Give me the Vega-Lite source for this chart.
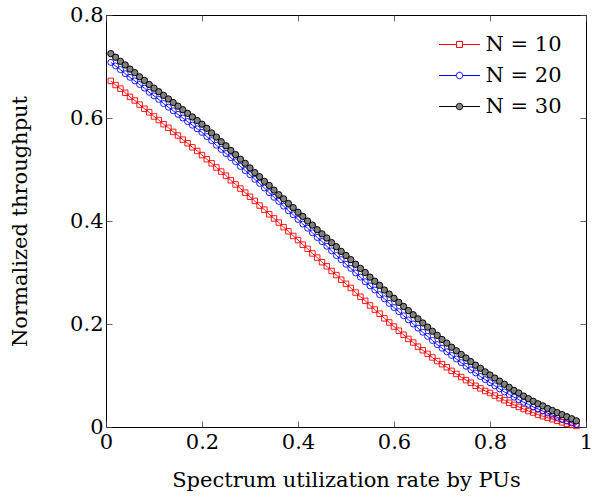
{
"$schema": "https://vega.github.io/schema/vega-lite/v6.json",
"width": 480, "height": 412,
"autosize": {"type": "none"},
"padding": {"left": 106, "top": 15, "right": 6, "bottom": 70},
"background": "white",
"config": {
  "font": "DejaVu Serif",
  "view": {"stroke": "black", "strokeWidth": 1},
  "axis": {"grid": false, "domain": false, "tickSize": -6, "tickColor": "#444", "tickWidth": 0.8,
           "labelFont": "DejaVu Serif", "labelFontSize": 21, "labelColor": "black",
           "titleFont": "DejaVu Serif", "titleFontSize": 21, "titleFontWeight": "normal", "titleColor": "black"},
  "legend": {"labelFont": "DejaVu Serif"}
},
"datasets": {"d": [
{"x":0.01,"s":"N = 10","y":0.672},{"x":0.02,"s":"N = 10","y":0.664},{"x":0.03,"s":"N = 10","y":0.657},{"x":0.04,"s":"N = 10","y":0.649},{"x":0.05,"s":"N = 10","y":0.641},{"x":0.06,"s":"N = 10","y":0.634},{"x":0.07,"s":"N = 10","y":0.626},{"x":0.08,"s":"N = 10","y":0.618},{"x":0.09,"s":"N = 10","y":0.611},{"x":0.10,"s":"N = 10","y":0.603},
{"x":0.11,"s":"N = 10","y":0.596},{"x":0.12,"s":"N = 10","y":0.588},{"x":0.13,"s":"N = 10","y":0.581},{"x":0.14,"s":"N = 10","y":0.573},{"x":0.15,"s":"N = 10","y":0.566},{"x":0.16,"s":"N = 10","y":0.558},{"x":0.17,"s":"N = 10","y":0.551},{"x":0.18,"s":"N = 10","y":0.543},{"x":0.19,"s":"N = 10","y":0.536},{"x":0.20,"s":"N = 10","y":0.528},
{"x":0.21,"s":"N = 10","y":0.520},{"x":0.22,"s":"N = 10","y":0.512},{"x":0.23,"s":"N = 10","y":0.504},{"x":0.24,"s":"N = 10","y":0.496},{"x":0.25,"s":"N = 10","y":0.488},{"x":0.26,"s":"N = 10","y":0.479},{"x":0.27,"s":"N = 10","y":0.471},{"x":0.28,"s":"N = 10","y":0.463},{"x":0.29,"s":"N = 10","y":0.455},{"x":0.30,"s":"N = 10","y":0.447},
{"x":0.31,"s":"N = 10","y":0.439},{"x":0.32,"s":"N = 10","y":0.430},{"x":0.33,"s":"N = 10","y":0.422},{"x":0.34,"s":"N = 10","y":0.413},{"x":0.35,"s":"N = 10","y":0.405},{"x":0.36,"s":"N = 10","y":0.397},{"x":0.37,"s":"N = 10","y":0.388},{"x":0.38,"s":"N = 10","y":0.380},{"x":0.39,"s":"N = 10","y":0.371},{"x":0.40,"s":"N = 10","y":0.363},
{"x":0.41,"s":"N = 10","y":0.354},{"x":0.42,"s":"N = 10","y":0.346},{"x":0.43,"s":"N = 10","y":0.337},{"x":0.44,"s":"N = 10","y":0.329},{"x":0.45,"s":"N = 10","y":0.320},{"x":0.46,"s":"N = 10","y":0.312},{"x":0.47,"s":"N = 10","y":0.303},{"x":0.48,"s":"N = 10","y":0.295},{"x":0.49,"s":"N = 10","y":0.286},{"x":0.50,"s":"N = 10","y":0.278},
{"x":0.51,"s":"N = 10","y":0.270},{"x":0.52,"s":"N = 10","y":0.261},{"x":0.53,"s":"N = 10","y":0.253},{"x":0.54,"s":"N = 10","y":0.245},{"x":0.55,"s":"N = 10","y":0.236},{"x":0.56,"s":"N = 10","y":0.228},{"x":0.57,"s":"N = 10","y":0.220},{"x":0.58,"s":"N = 10","y":0.211},{"x":0.59,"s":"N = 10","y":0.203},{"x":0.60,"s":"N = 10","y":0.195},
{"x":0.61,"s":"N = 10","y":0.187},{"x":0.62,"s":"N = 10","y":0.179},{"x":0.63,"s":"N = 10","y":0.171},{"x":0.64,"s":"N = 10","y":0.164},{"x":0.65,"s":"N = 10","y":0.156},{"x":0.66,"s":"N = 10","y":0.149},{"x":0.67,"s":"N = 10","y":0.142},{"x":0.68,"s":"N = 10","y":0.135},{"x":0.69,"s":"N = 10","y":0.128},{"x":0.70,"s":"N = 10","y":0.122},
{"x":0.71,"s":"N = 10","y":0.116},{"x":0.72,"s":"N = 10","y":0.109},{"x":0.73,"s":"N = 10","y":0.103},{"x":0.74,"s":"N = 10","y":0.097},{"x":0.75,"s":"N = 10","y":0.091},{"x":0.76,"s":"N = 10","y":0.086},{"x":0.77,"s":"N = 10","y":0.080},{"x":0.78,"s":"N = 10","y":0.075},{"x":0.79,"s":"N = 10","y":0.070},{"x":0.80,"s":"N = 10","y":0.066},
{"x":0.81,"s":"N = 10","y":0.061},{"x":0.82,"s":"N = 10","y":0.056},{"x":0.83,"s":"N = 10","y":0.052},{"x":0.84,"s":"N = 10","y":0.047},{"x":0.85,"s":"N = 10","y":0.043},{"x":0.86,"s":"N = 10","y":0.039},{"x":0.87,"s":"N = 10","y":0.035},{"x":0.88,"s":"N = 10","y":0.031},{"x":0.89,"s":"N = 10","y":0.028},{"x":0.90,"s":"N = 10","y":0.024},
{"x":0.91,"s":"N = 10","y":0.021},{"x":0.92,"s":"N = 10","y":0.018},{"x":0.93,"s":"N = 10","y":0.015},{"x":0.94,"s":"N = 10","y":0.012},{"x":0.95,"s":"N = 10","y":0.009},{"x":0.96,"s":"N = 10","y":0.006},{"x":0.97,"s":"N = 10","y":0.004},{"x":0.98,"s":"N = 10","y":0.002},
{"x":0.01,"s":"N = 20","y":0.708},{"x":0.02,"s":"N = 20","y":0.701},{"x":0.03,"s":"N = 20","y":0.694},{"x":0.04,"s":"N = 20","y":0.686},{"x":0.05,"s":"N = 20","y":0.679},{"x":0.06,"s":"N = 20","y":0.672},{"x":0.07,"s":"N = 20","y":0.665},{"x":0.08,"s":"N = 20","y":0.658},{"x":0.09,"s":"N = 20","y":0.650},{"x":0.10,"s":"N = 20","y":0.643},
{"x":0.11,"s":"N = 20","y":0.636},{"x":0.12,"s":"N = 20","y":0.628},{"x":0.13,"s":"N = 20","y":0.621},{"x":0.14,"s":"N = 20","y":0.614},{"x":0.15,"s":"N = 20","y":0.607},{"x":0.16,"s":"N = 20","y":0.600},{"x":0.17,"s":"N = 20","y":0.593},{"x":0.18,"s":"N = 20","y":0.586},{"x":0.19,"s":"N = 20","y":0.579},{"x":0.20,"s":"N = 20","y":0.572},
{"x":0.21,"s":"N = 20","y":0.564},{"x":0.22,"s":"N = 20","y":0.556},{"x":0.23,"s":"N = 20","y":0.547},{"x":0.24,"s":"N = 20","y":0.539},{"x":0.25,"s":"N = 20","y":0.531},{"x":0.26,"s":"N = 20","y":0.523},{"x":0.27,"s":"N = 20","y":0.515},{"x":0.28,"s":"N = 20","y":0.506},{"x":0.29,"s":"N = 20","y":0.498},{"x":0.30,"s":"N = 20","y":0.490},
{"x":0.31,"s":"N = 20","y":0.481},{"x":0.32,"s":"N = 20","y":0.473},{"x":0.33,"s":"N = 20","y":0.464},{"x":0.34,"s":"N = 20","y":0.455},{"x":0.35,"s":"N = 20","y":0.446},{"x":0.36,"s":"N = 20","y":0.438},{"x":0.37,"s":"N = 20","y":0.429},{"x":0.38,"s":"N = 20","y":0.420},{"x":0.39,"s":"N = 20","y":0.412},{"x":0.40,"s":"N = 20","y":0.403},
{"x":0.41,"s":"N = 20","y":0.394},{"x":0.42,"s":"N = 20","y":0.386},{"x":0.43,"s":"N = 20","y":0.377},{"x":0.44,"s":"N = 20","y":0.368},{"x":0.45,"s":"N = 20","y":0.360},{"x":0.46,"s":"N = 20","y":0.351},{"x":0.47,"s":"N = 20","y":0.342},{"x":0.48,"s":"N = 20","y":0.333},{"x":0.49,"s":"N = 20","y":0.325},{"x":0.50,"s":"N = 20","y":0.316},
{"x":0.51,"s":"N = 20","y":0.308},{"x":0.52,"s":"N = 20","y":0.299},{"x":0.53,"s":"N = 20","y":0.291},{"x":0.54,"s":"N = 20","y":0.282},{"x":0.55,"s":"N = 20","y":0.274},{"x":0.56,"s":"N = 20","y":0.266},{"x":0.57,"s":"N = 20","y":0.257},{"x":0.58,"s":"N = 20","y":0.249},{"x":0.59,"s":"N = 20","y":0.240},{"x":0.60,"s":"N = 20","y":0.232},
{"x":0.61,"s":"N = 20","y":0.224},{"x":0.62,"s":"N = 20","y":0.216},{"x":0.63,"s":"N = 20","y":0.208},{"x":0.64,"s":"N = 20","y":0.200},{"x":0.65,"s":"N = 20","y":0.192},{"x":0.66,"s":"N = 20","y":0.184},{"x":0.67,"s":"N = 20","y":0.176},{"x":0.68,"s":"N = 20","y":0.168},{"x":0.69,"s":"N = 20","y":0.160},{"x":0.70,"s":"N = 20","y":0.153},
{"x":0.71,"s":"N = 20","y":0.146},{"x":0.72,"s":"N = 20","y":0.139},{"x":0.73,"s":"N = 20","y":0.132},{"x":0.74,"s":"N = 20","y":0.125},{"x":0.75,"s":"N = 20","y":0.118},{"x":0.76,"s":"N = 20","y":0.111},{"x":0.77,"s":"N = 20","y":0.105},{"x":0.78,"s":"N = 20","y":0.098},{"x":0.79,"s":"N = 20","y":0.092},{"x":0.80,"s":"N = 20","y":0.086},
{"x":0.81,"s":"N = 20","y":0.080},{"x":0.82,"s":"N = 20","y":0.074},{"x":0.83,"s":"N = 20","y":0.068},{"x":0.84,"s":"N = 20","y":0.063},{"x":0.85,"s":"N = 20","y":0.058},{"x":0.86,"s":"N = 20","y":0.053},{"x":0.87,"s":"N = 20","y":0.048},{"x":0.88,"s":"N = 20","y":0.044},{"x":0.89,"s":"N = 20","y":0.039},{"x":0.90,"s":"N = 20","y":0.035},
{"x":0.91,"s":"N = 20","y":0.031},{"x":0.92,"s":"N = 20","y":0.027},{"x":0.93,"s":"N = 20","y":0.023},{"x":0.94,"s":"N = 20","y":0.019},{"x":0.95,"s":"N = 20","y":0.015},{"x":0.96,"s":"N = 20","y":0.012},{"x":0.97,"s":"N = 20","y":0.008},{"x":0.98,"s":"N = 20","y":0.005},
{"x":0.01,"s":"N = 30","y":0.725},{"x":0.02,"s":"N = 30","y":0.718},{"x":0.03,"s":"N = 30","y":0.710},{"x":0.04,"s":"N = 30","y":0.703},{"x":0.05,"s":"N = 30","y":0.695},{"x":0.06,"s":"N = 30","y":0.688},{"x":0.07,"s":"N = 30","y":0.680},{"x":0.08,"s":"N = 30","y":0.673},{"x":0.09,"s":"N = 30","y":0.665},{"x":0.10,"s":"N = 30","y":0.658},
{"x":0.11,"s":"N = 30","y":0.651},{"x":0.12,"s":"N = 30","y":0.644},{"x":0.13,"s":"N = 30","y":0.637},{"x":0.14,"s":"N = 30","y":0.630},{"x":0.15,"s":"N = 30","y":0.623},{"x":0.16,"s":"N = 30","y":0.616},{"x":0.17,"s":"N = 30","y":0.609},{"x":0.18,"s":"N = 30","y":0.602},{"x":0.19,"s":"N = 30","y":0.595},{"x":0.20,"s":"N = 30","y":0.588},
{"x":0.21,"s":"N = 30","y":0.580},{"x":0.22,"s":"N = 30","y":0.571},{"x":0.23,"s":"N = 30","y":0.563},{"x":0.24,"s":"N = 30","y":0.554},{"x":0.25,"s":"N = 30","y":0.546},{"x":0.26,"s":"N = 30","y":0.537},{"x":0.27,"s":"N = 30","y":0.529},{"x":0.28,"s":"N = 30","y":0.520},{"x":0.29,"s":"N = 30","y":0.512},{"x":0.30,"s":"N = 30","y":0.503},
{"x":0.31,"s":"N = 30","y":0.494},{"x":0.32,"s":"N = 30","y":0.486},{"x":0.33,"s":"N = 30","y":0.477},{"x":0.34,"s":"N = 30","y":0.469},{"x":0.35,"s":"N = 30","y":0.460},{"x":0.36,"s":"N = 30","y":0.451},{"x":0.37,"s":"N = 30","y":0.443},{"x":0.38,"s":"N = 30","y":0.434},{"x":0.39,"s":"N = 30","y":0.426},{"x":0.40,"s":"N = 30","y":0.417},
{"x":0.41,"s":"N = 30","y":0.409},{"x":0.42,"s":"N = 30","y":0.400},{"x":0.43,"s":"N = 30","y":0.392},{"x":0.44,"s":"N = 30","y":0.383},{"x":0.45,"s":"N = 30","y":0.375},{"x":0.46,"s":"N = 30","y":0.367},{"x":0.47,"s":"N = 30","y":0.358},{"x":0.48,"s":"N = 30","y":0.350},{"x":0.49,"s":"N = 30","y":0.341},{"x":0.50,"s":"N = 30","y":0.333},
{"x":0.51,"s":"N = 30","y":0.325},{"x":0.52,"s":"N = 30","y":0.316},{"x":0.53,"s":"N = 30","y":0.308},{"x":0.54,"s":"N = 30","y":0.300},{"x":0.55,"s":"N = 30","y":0.291},{"x":0.56,"s":"N = 30","y":0.283},{"x":0.57,"s":"N = 30","y":0.275},{"x":0.58,"s":"N = 30","y":0.266},{"x":0.59,"s":"N = 30","y":0.258},{"x":0.60,"s":"N = 30","y":0.250},
{"x":0.61,"s":"N = 30","y":0.242},{"x":0.62,"s":"N = 30","y":0.234},{"x":0.63,"s":"N = 30","y":0.226},{"x":0.64,"s":"N = 30","y":0.218},{"x":0.65,"s":"N = 30","y":0.210},{"x":0.66,"s":"N = 30","y":0.202},{"x":0.67,"s":"N = 30","y":0.194},{"x":0.68,"s":"N = 30","y":0.186},{"x":0.69,"s":"N = 30","y":0.178},{"x":0.70,"s":"N = 30","y":0.170},
{"x":0.71,"s":"N = 30","y":0.163},{"x":0.72,"s":"N = 30","y":0.155},{"x":0.73,"s":"N = 30","y":0.148},{"x":0.74,"s":"N = 30","y":0.141},{"x":0.75,"s":"N = 30","y":0.134},{"x":0.76,"s":"N = 30","y":0.127},{"x":0.77,"s":"N = 30","y":0.120},{"x":0.78,"s":"N = 30","y":0.114},{"x":0.79,"s":"N = 30","y":0.107},{"x":0.80,"s":"N = 30","y":0.101},
{"x":0.81,"s":"N = 30","y":0.095},{"x":0.82,"s":"N = 30","y":0.089},{"x":0.83,"s":"N = 30","y":0.083},{"x":0.84,"s":"N = 30","y":0.077},{"x":0.85,"s":"N = 30","y":0.071},{"x":0.86,"s":"N = 30","y":0.066},{"x":0.87,"s":"N = 30","y":0.060},{"x":0.88,"s":"N = 30","y":0.055},{"x":0.89,"s":"N = 30","y":0.050},{"x":0.90,"s":"N = 30","y":0.045},
{"x":0.91,"s":"N = 30","y":0.041},{"x":0.92,"s":"N = 30","y":0.036},{"x":0.93,"s":"N = 30","y":0.032},{"x":0.94,"s":"N = 30","y":0.028},{"x":0.95,"s":"N = 30","y":0.024},{"x":0.96,"s":"N = 30","y":0.020},{"x":0.97,"s":"N = 30","y":0.016},{"x":0.98,"s":"N = 30","y":0.012}
]},
"data": {"name": "d"},
"layer": [
  {
    "mark": {"type": "line", "strokeWidth": 0.9},
    "encoding": {
      "x": {"field": "x", "type": "quantitative", "scale": {"domain": [0, 1], "nice": false, "zero": false},
            "axis": {"title": "Spectrum utilization rate by PUs", "values": [0, 0.2, 0.4, 0.6, 0.8, 1], "format": "~g", "labelPadding": 10, "titlePadding": 17, "labelFlush": false}},
      "y": {"field": "y", "type": "quantitative", "scale": {"domain": [0, 0.8], "nice": false, "zero": false},
            "axis": {"title": "Normalized throughput", "values": [0, 0.2, 0.4, 0.6, 0.8], "format": "~g", "labelPadding": 9, "titlePadding": 39, "labelFlush": false}},
      "color": {"field": "s", "type": "nominal", "scale": {"domain": ["N = 10", "N = 20", "N = 30"], "range": ["#ff0000", "#0000ff", "#000000"]},
        "legend": {"title": null, "orient": "none", "legendX": 332.5, "legendY": 8.5, "padding": 0,
          "symbolSize": 784, "rowPadding": -3, "labelOffset": 5, "labelFontSize": 21, "labelColor": "black",
          "symbolStrokeWidth": 1,
          "encode": {"symbols": {"update": {
            "size": {"value": 1681},
            "strokeWidth": {"value": 1},
            "opacity": {"value": 1},
            "shape": {"signal": "datum.value === 'N = 10' ? 'M-1,0H-0.146M0.146,0H1M-0.146,-0.146H0.146V0.146H-0.146Z' : 'M-1,0H-0.16M0.16,0H1M0.16,0A0.16,0.16 0 1,1 -0.16,0A0.16,0.16 0 1,1 0.16,0Z'"},
            "fill": {"signal": "datum.value === 'N = 30' ? '#808080' : 'transparent'"},
            "stroke": {"signal": "datum.value === 'N = 10' ? '#ff0000' : (datum.value === 'N = 20' ? '#0000ff' : '#000000')"}
          }}}}}
    }
  },
  {
    "transform": [{"filter": "datum.s === 'N = 10'"}],
    "mark": {"type": "point", "shape": "square", "size": 30, "strokeWidth": 0.9, "opacity": 1, "filled": false, "color": "#ff0000"},
    "encoding": {
      "x": {"field": "x", "type": "quantitative", "axis": {"orient": "top", "labels": false, "title": null, "values": [0, 0.2, 0.4, 0.6, 0.8, 1]}},
      "y": {"field": "y", "type": "quantitative", "axis": {"orient": "right", "labels": false, "title": null, "values": [0, 0.2, 0.4, 0.6, 0.8]}}
    }
  },
  {
    "transform": [{"filter": "datum.s === 'N = 20'"}],
    "mark": {"type": "point", "shape": "circle", "size": 36, "strokeWidth": 0.9, "opacity": 1, "filled": false, "color": "#0000ff"},
    "encoding": {
      "x": {"field": "x", "type": "quantitative", "axis": null},
      "y": {"field": "y", "type": "quantitative", "axis": null}
    }
  },
  {
    "transform": [{"filter": "datum.s === 'N = 30'"}],
    "mark": {"type": "point", "shape": "circle", "size": 40, "strokeWidth": 1, "opacity": 1, "filled": true, "fill": "#808080", "stroke": "#000000"},
    "encoding": {
      "x": {"field": "x", "type": "quantitative", "axis": null},
      "y": {"field": "y", "type": "quantitative", "axis": null}
    }
  }
],
"resolve": {"axis": {"x": "independent", "y": "independent"}}
}
